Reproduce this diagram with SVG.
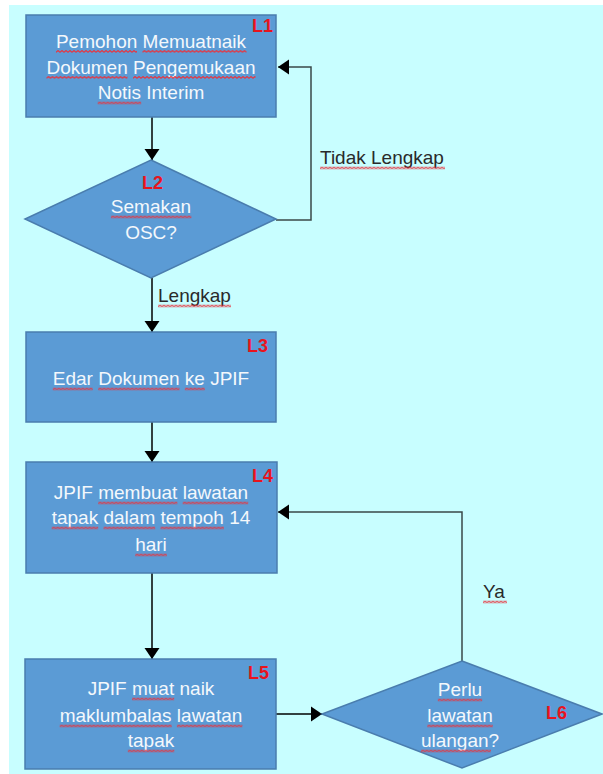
<svg xmlns="http://www.w3.org/2000/svg" width="603" height="774" viewBox="0 0 603 774">
<style>
.box{fill:#5B9BD5;stroke:#4A7DAE;stroke-width:1.5}
.t{font-family:"Liberation Sans",Arial,sans-serif;font-size:19px;fill:#F4F8FC;text-anchor:middle}
.lbl{font-family:"Liberation Sans",Arial,sans-serif;font-size:19px;fill:#2A2A2A}
.id{font-family:"Liberation Sans",Arial,sans-serif;font-size:18px;font-weight:bold;fill:#E8141E;text-anchor:end}
.w{fill:url(#wave)}
.c{fill:none;stroke:#000;stroke-width:1.5}
.c2{fill:none;stroke:#3A4848;stroke-width:1.5}
</style>
<defs>
<marker id="ah" markerUnits="userSpaceOnUse" markerWidth="14" markerHeight="16" viewBox="0 0 14 16" refX="12" refY="8" orient="auto">
<path d="M1,0.5 L12,8 L1,15.5 Z" fill="#000"/>
</marker>
<pattern id="wave" patternUnits="userSpaceOnUse" width="4" height="3">
<path d="M0,2.4 L2,0.6 L4,2.4" fill="none" stroke="#E8343E" stroke-width="1.2"/>
</pattern>
</defs>
<rect x="0" y="0" width="603" height="774" fill="#FFFFFF"/>
<rect x="9" y="5" width="594" height="769" fill="#C8FEFF"/>
<g id="connectors">
<path class="c" d="M152,117 V160" marker-end="url(#ah)"/>
<path class="c2" d="M276,220 H311 V67 H278" marker-end="url(#ah)"/>
<path class="c" d="M152,278 V332" marker-end="url(#ah)"/>
<path class="c" d="M152,422 V462" marker-end="url(#ah)"/>
<path class="c" d="M152,573 V659" marker-end="url(#ah)"/>
<path class="c" d="M276,714 H322" marker-end="url(#ah)"/>
<path class="c2" d="M462,661 V512 H278" marker-end="url(#ah)"/>
<text class="lbl" x="320" y="164">Tidak Lengkap</text>
<rect class="w" transform="translate(320,166.5)" width="125" height="3"/>
<text class="lbl" x="158" y="302">Lengkap</text>
<rect class="w" transform="translate(158,304.5)" width="73" height="3"/>
<text class="lbl" x="483" y="598">Ya</text>
<rect class="w" transform="translate(483,600.5)" width="24" height="3"/>
</g>
<g id="L1">
<rect class="box" x="26" y="15" width="250" height="102"/>
<text class="t" x="151" y="47.5">Pemohon Memuatnaik</text>
<text class="t" x="151" y="73.5">Dokumen Pengemukaan</text>
<text class="t" x="151" y="99">Notis Interim</text>
<rect class="w" transform="translate(56,50)" width="81" height="3"/>
<rect class="w" transform="translate(142.5,50)" width="104" height="3"/>
<rect class="w" transform="translate(46.5,76)" width="81" height="3"/>
<rect class="w" transform="translate(133,76)" width="122.5" height="3"/>
<rect class="w" transform="translate(97.7,101.5)" width="43.5" height="3"/>
<text class="id" x="273" y="32">L1</text>
</g>
<g id="L2">
<path class="box" d="M151,160 L276,219 L151,278 L25,219 Z"/>
<text class="id" x="163" y="189">L2</text>
<text class="t" x="151" y="213">Semakan</text>
<rect class="w" transform="translate(110.9,215.5)" width="80.5" height="3"/>
<text class="t" x="151" y="239">OSC?</text>
</g>
<g id="L3">
<rect class="box" x="26" y="332" width="250" height="90"/>
<text class="id" x="268" y="352">L3</text>
<text class="t" x="151" y="385">Edar Dokumen ke JPIF</text>
<rect class="w" transform="translate(52.8,387.5)" width="40" height="3"/>
<rect class="w" transform="translate(98.2,387.5)" width="81.3" height="3"/>
<rect class="w" transform="translate(184.8,387.5)" width="20" height="3"/>
</g>
<g id="L4">
<rect class="box" x="26" y="462" width="251" height="111"/>
<text class="id" x="273" y="482">L4</text>
<text class="t" x="151" y="499">JPIF membuat lawatan</text>
<text class="t" x="151" y="524">tapak dalam tempoh 14</text>
<text class="t" x="151" y="551">hari</text>
<rect class="w" transform="translate(98.2,501.5)" width="79.2" height="3"/>
<rect class="w" transform="translate(182.7,501.5)" width="65.5" height="3"/>
<rect class="w" transform="translate(51.7,526.5)" width="46.5" height="3"/>
<rect class="w" transform="translate(103.5,526.5)" width="51.7" height="3"/>
<rect class="w" transform="translate(160.5,526.5)" width="63.4" height="3"/>
<rect class="w" transform="translate(135.2,553.5)" width="31.7" height="3"/>
</g>
<g id="L5">
<rect class="box" x="25" y="659" width="251" height="110"/>
<text class="id" x="269" y="679">L5</text>
<text class="t" x="151" y="695">JPIF muat naik</text>
<text class="t" x="151" y="722">maklumbalas lawatan</text>
<text class="t" x="151" y="747">tapak</text>
<rect class="w" transform="translate(132,697.5)" width="42.2" height="3"/>
<rect class="w" transform="translate(59.7,724.5)" width="112" height="3"/>
<rect class="w" transform="translate(176.9,724.5)" width="65.5" height="3"/>
<rect class="w" transform="translate(127.8,749.5)" width="46.5" height="3"/>
</g>
<g id="L6">
<path class="box" d="M462,661 L602,714 L462,768 L322,714 Z"/>
<text class="id" x="567" y="719">L6</text>
<text class="t" x="460" y="696">Perlu</text>
<text class="t" x="460" y="722">lawatan</text>
<text class="t" x="460" y="747">ulangan?</text>
<rect class="w" transform="translate(437.8,698.5)" width="44.4" height="3"/>
<rect class="w" transform="translate(427.3,724.5)" width="65.5" height="3"/>
<rect class="w" transform="translate(420.9,749.5)" width="70" height="3"/>
</g>
</svg>
